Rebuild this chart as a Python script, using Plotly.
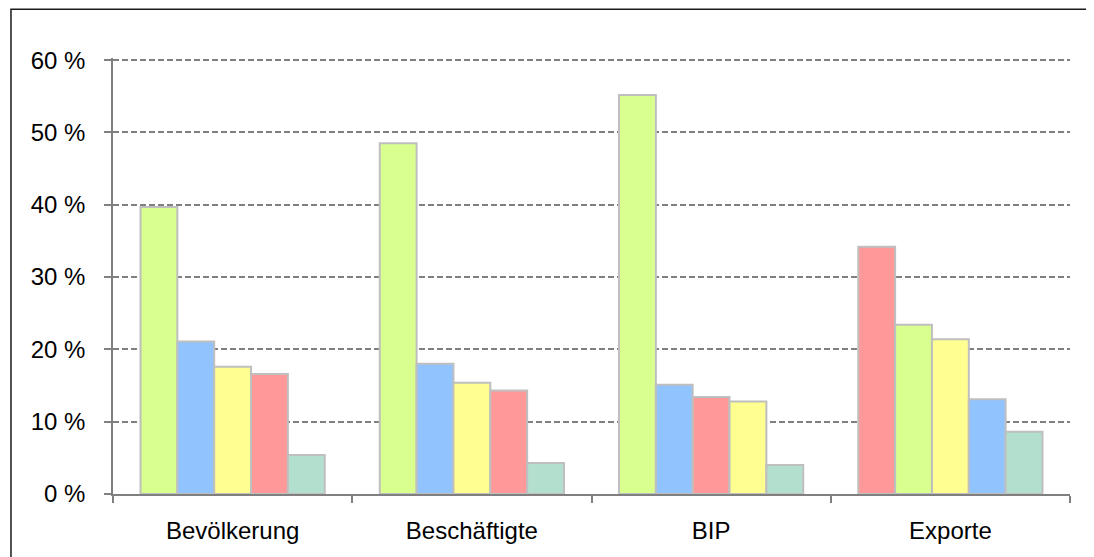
import plotly.graph_objects as go

categories = ["Bevölkerung", "Beschäftigte", "BIP", "Exporte"]

# values per coloured series (percent)
green_vals = [39.7, 48.5, 55.2, 23.4]
blue_vals = [21.1, 18.0, 15.1, 13.1]
yellow_vals = [17.6, 15.4, 12.8, 21.4]
red_vals = [16.6, 14.3, 13.4, 34.2]
teal_vals = [5.4, 4.3, 4.0, 8.6]

series_names = ["Grün", "Blau", "Gelb", "Rot", "Türkis"]
series_colors = ["#D9FF8F", "#91C3FF", "#FFFF91", "#FF9999", "#B3DFCF"]
series_values = [green_vals, blue_vals, yellow_vals, red_vals, teal_vals]

y_ticks = [0, 10, 20, 30, 40, 50, 60]
y_tick_labels = ["0 %", "10 %", "20 %", "30 %", "40 %", "50 %", "60 %"]

FONT = "Liberation Sans, Arial, sans-serif"
FS = 24

# bars are ordered by size (descending) within each category
n = len(series_values)
ranked = []
for ci in range(len(categories)):
    items = sorted(range(n), key=lambda s: -series_values[s][ci])
    ranked.append(items)

fig = go.Figure()
for r in range(n):
    ys = [series_values[ranked[ci][r]][ci] for ci in range(len(categories))]
    cols = [series_colors[ranked[ci][r]] for ci in range(len(categories))]
    names = [series_names[ranked[ci][r]] for ci in range(len(categories))]
    fig.add_trace(go.Bar(
        x=categories, y=ys,
        marker=dict(color=cols, line=dict(color="#BFBFBF", width=2)),
        customdata=names,
        hovertemplate="%{customdata}: %{y} %<extra></extra>",
        showlegend=False,
    ))

fig.update_layout(
    width=1094, height=557,
    margin=dict(l=105, r=32, t=50, b=71),
    paper_bgcolor="white", plot_bgcolor="white",
    barmode="group", bargap=0.23, bargroupgap=0,
    font=dict(family=FONT, size=FS, color="#000000"),
    showlegend=False,
)
fig.update_xaxes(
    type="category",
    showline=True, linecolor="#808080", linewidth=1.5,
    ticks="outside", tickson="boundaries", ticklen=7, tickcolor="#808080", tickwidth=1.5,
    showgrid=False,
    tickfont=dict(family=FONT, size=FS, color="#000000"),
    ticklabelstandoff=14,
)
fig.update_yaxes(
    range=[0, 60.3], tickvals=y_ticks, ticktext=y_tick_labels,
    showline=True, linecolor="#808080", linewidth=1.5,
    ticks="outside", ticklen=7, tickcolor="#808080", tickwidth=1.5,
    showgrid=True, gridcolor="#808080", gridwidth=1.5, griddash="6px,3px",
    zeroline=False,
    tickfont=dict(family=FONT, size=FS, color="#000000"),
    ticklabelstandoff=14,
)
# outer frame of the chart area
fig.add_shape(type="rect", xref="paper", yref="paper",
              x0=-0.1066, x1=1.2, y0=-0.5, y1=1.112,
              line=dict(color="#1a1a1a", width=1.5), fillcolor="rgba(0,0,0,0)")

fig.write_html("out.html")
